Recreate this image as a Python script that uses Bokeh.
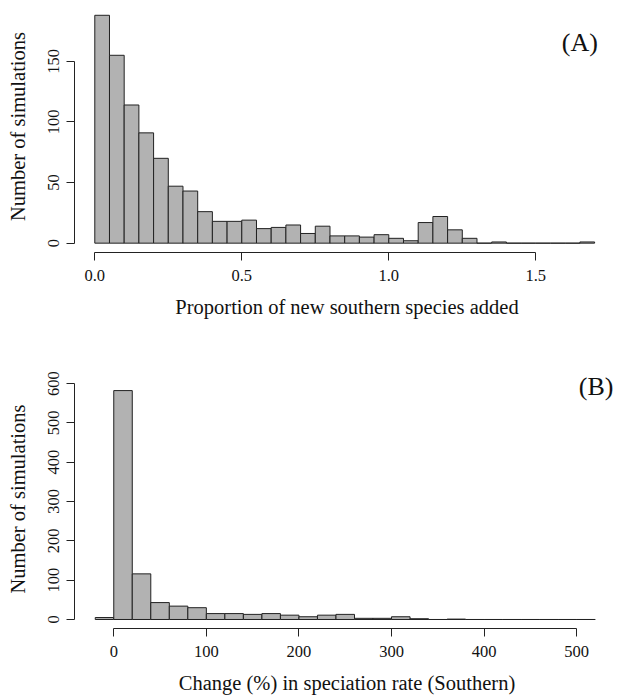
import math
from bokeh.plotting import figure
from bokeh.models import Range1d, FixedTicker, Label, NumeralTickFormatter
from bokeh.layouts import column
from bokeh.embed import file_html
from bokeh.resources import INLINE

FONT = "Liberation Serif"
BAR_FILL = "#B2B2B2"
INK = "#222222"

# ---- Panel A data: proportion of new southern species added ----
a_bin_start = 0.0
a_bin_width = 0.05
a_counts = [188, 155, 114, 91, 70, 47, 43, 26, 18, 18, 19, 12, 13, 15, 8, 14, 6,
            6, 5, 7, 4, 2, 17, 22, 11, 4, 0, 1, 0, 0, 0, 0, 0, 1]
a_xticks = [0.0, 0.5, 1.0, 1.5]
a_yticks = [0, 50, 100, 150]
a_xlabel = "Proportion of new southern species added"
a_ylabel = "Number of simulations"
a_tag = "(A)"

# ---- Panel B data: change (%) in speciation rate (Southern) ----
b_bin_start = -20
b_bin_width = 20
b_counts = [5, 582, 116, 43, 34, 30, 15, 15, 13, 15, 11, 7, 11, 13, 3, 3, 7, 2,
            0, 1, 0, 0, 0, 0, 0, 0, 0]
b_xticks = [0, 100, 200, 300, 400, 500]
b_yticks = [0, 100, 200, 300, 400, 500, 600]
b_xlabel = "Change (%) in speciation rate (Southern)"
b_ylabel = "Number of simulations"
b_tag = "(B)"


def style_axes(p, xticks, yticks, xlabel, ylabel):
    p.xaxis.ticker = FixedTicker(ticks=xticks)
    p.yaxis.ticker = FixedTicker(ticks=yticks)
    p.xaxis.bounds = (xticks[0], xticks[-1])
    p.yaxis.bounds = (yticks[0], yticks[-1])
    p.xaxis.axis_label = xlabel
    p.yaxis.axis_label = ylabel
    for ax in (p.xaxis[0], p.yaxis[0]):
        ax.axis_line_color = INK
        ax.axis_line_width = 1
        ax.major_tick_line_color = INK
        ax.major_tick_in = 0
        ax.major_tick_out = 8
        ax.minor_tick_line_color = None
        ax.major_label_text_font = FONT
        ax.major_label_text_font_size = "16.5px"
        ax.major_label_text_color = "#111111"
        ax.axis_label_text_font = FONT
        ax.axis_label_text_font_size = "20.5px"
        ax.axis_label_text_font_style = "normal"
        ax.axis_label_text_color = "#111111"
    p.xaxis.major_label_standoff = 9
    p.xaxis.axis_label_standoff = 12
    p.yaxis.major_label_standoff = 7
    p.yaxis.axis_label_standoff = 17
    p.yaxis.major_label_orientation = "vertical"
    p.grid.visible = False
    p.outline_line_color = None
    p.background_fill_color = "white"
    p.border_fill_color = "white"


# Panel A
a_left = [a_bin_start + i * a_bin_width for i in range(len(a_counts))]
a_right = [l + a_bin_width for l in a_left]
pA = figure(width=619, height=320, output_backend="svg", toolbar_location=None,
            x_range=Range1d(-0.069, 1.7847), y_range=Range1d(-7.7, 200.2),
            min_border_left=74, min_border_right=0, min_border_top=0,
            min_border_bottom=67)
pA.quad(left=a_left, right=a_right, bottom=0, top=a_counts,
        fill_color=BAR_FILL, line_color=INK, line_width=1)
style_axes(pA, a_xticks, a_yticks, a_xlabel, a_ylabel)
pA.xaxis.formatter = NumeralTickFormatter(format="0.0")
pA.add_layout(Label(x=1.65, y=165.4, text=a_tag, text_font=FONT,
                    text_font_size="26px", text_align="center",
                    text_baseline="middle", text_color="#111111"))

# Panel B
b_left = [b_bin_start + i * b_bin_width for i in range(len(b_counts))]
b_right = [l + b_bin_width for l in b_left]
pB = figure(width=619, height=376, output_backend="svg", toolbar_location=None,
            x_range=Range1d(-42.4, 546.2), y_range=Range1d(-22.9, 635.6),
            min_border_left=74, min_border_right=0, min_border_top=49,
            min_border_bottom=68)
pB.quad(left=b_left, right=b_right, bottom=0, top=b_counts,
        fill_color=BAR_FILL, line_color=INK, line_width=1)
style_axes(pB, b_xticks, b_yticks, b_xlabel, b_ylabel)
pB.add_layout(Label(x=521, y=593, text=b_tag, text_font=FONT,
                    text_font_size="26px", text_align="center",
                    text_baseline="middle", text_color="#111111"))

layout = column(pA, pB, spacing=0)
open("out.html", "w").write(file_html(layout, INLINE))
